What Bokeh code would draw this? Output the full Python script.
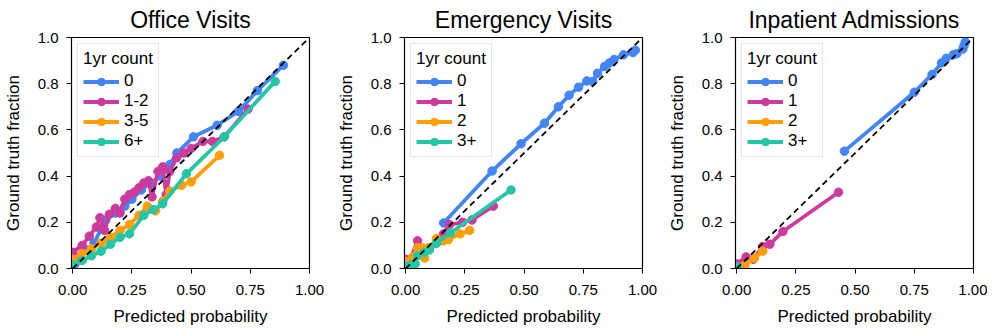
from bokeh.plotting import figure
from bokeh.layouts import row
from bokeh.models import FixedTicker, NumeralTickFormatter
from bokeh.embed import file_html
from bokeh.resources import INLINE

FONT = "Liberation Sans"
COLORS = ["#4285F4", "#CC3A9E", "#FF9E0A", "#25C6A5"]

titles = ["Office Visits", "Emergency Visits", "Inpatient Admissions"]
office_labels = ["0", "1-2", "3-5", "6+"]
emerg_labels = ["0", "1", "2", "3+"]
inpat_labels = ["0", "1", "2", "3+"]
x_ticks = [0, 0.25, 0.5, 0.75, 1.0]
y_ticks = [0, 0.2, 0.4, 0.6, 0.8, 1.0]

# Office Visits
off0_x = [0.01, 0.03, 0.06, 0.09, 0.12, 0.14, 0.18, 0.22, 0.25, 0.29, 0.33, 0.37, 0.41, 0.44, 0.51, 0.61, 0.70, 0.78, 0.89]
off0_y = [0.02, 0.05, 0.08, 0.11, 0.17, 0.21, 0.24, 0.27, 0.30, 0.34, 0.37, 0.40, 0.45, 0.50, 0.57, 0.62, 0.68, 0.77, 0.88]
off1_x = [0.00, 0.04, 0.07, 0.10, 0.115, 0.135, 0.155, 0.18, 0.20, 0.22, 0.24, 0.26, 0.28, 0.30, 0.32, 0.335, 0.36, 0.38, 0.395, 0.41, 0.44, 0.47, 0.50, 0.55, 0.59, 0.64, 0.74]
off1_y = [0.07, 0.10, 0.14, 0.18, 0.22, 0.165, 0.235, 0.26, 0.24, 0.30, 0.32, 0.33, 0.35, 0.37, 0.38, 0.31, 0.42, 0.44, 0.32, 0.42, 0.48, 0.50, 0.52, 0.55, 0.55, 0.57, 0.69]
off2_x = [0.0, 0.04, 0.08, 0.12, 0.16, 0.20, 0.24, 0.28, 0.315, 0.35, 0.38, 0.41, 0.46, 0.50, 0.62]
off2_y = [0.04, 0.065, 0.085, 0.11, 0.135, 0.165, 0.19, 0.23, 0.27, 0.25, 0.29, 0.335, 0.36, 0.375, 0.49]
off3_x = [0.0, 0.04, 0.08, 0.12, 0.16, 0.20, 0.24, 0.30, 0.34, 0.38, 0.48, 0.64, 0.855]
off3_y = [0.015, 0.035, 0.055, 0.075, 0.105, 0.135, 0.15, 0.23, 0.255, 0.28, 0.41, 0.57, 0.81]

# Emergency Visits
em0_x = [0.16, 0.365, 0.487, 0.586, 0.645, 0.69, 0.73, 0.765, 0.79, 0.81, 0.84, 0.86, 0.88, 0.92, 0.96, 0.97]
em0_y = [0.197, 0.422, 0.54, 0.629, 0.70, 0.75, 0.785, 0.812, 0.81, 0.845, 0.875, 0.89, 0.905, 0.925, 0.935, 0.945]
em1_x = [0.0, 0.02, 0.05, 0.07, 0.10, 0.13, 0.16, 0.185, 0.24, 0.28, 0.37]
em1_y = [0.04, 0.04, 0.12, 0.07, 0.09, 0.11, 0.15, 0.19, 0.20, 0.21, 0.27]
em2_x = [0.0, 0.03, 0.05, 0.07, 0.08, 0.10, 0.13, 0.16, 0.18, 0.23, 0.27]
em2_y = [0.03, 0.05, 0.09, 0.09, 0.045, 0.09, 0.13, 0.12, 0.125, 0.15, 0.165]
em3_x = [0.0, 0.02, 0.04, 0.05, 0.08, 0.10, 0.13, 0.19, 0.445]
em3_y = [0.01, 0.015, 0.02, 0.055, 0.07, 0.08, 0.11, 0.155, 0.34]

# Inpatient Admissions
in0_x = [0.455, 0.75, 0.825, 0.865, 0.885, 0.915, 0.93, 0.955, 0.96, 0.965]
in0_y = [0.508, 0.763, 0.84, 0.89, 0.91, 0.925, 0.93, 0.95, 0.965, 0.98]
in1_x = [0.0, 0.04, 0.07, 0.11, 0.14, 0.195, 0.43]
in1_y = [0.02, 0.05, 0.04, 0.095, 0.105, 0.16, 0.33]
in2_x = [0.035, 0.075, 0.11]
in2_y = [0.015, 0.045, 0.075]
in3_x = [0.003]
in3_y = [0.008]

panels = [
    (titles[0], office_labels, [(off0_x, off0_y), (off1_x, off1_y), (off2_x, off2_y), (off3_x, off3_y)], 69, 17),
    (titles[1], emerg_labels, [(em0_x, em0_y), (em1_x, em1_y), (em2_x, em2_y), (em3_x, em3_y)], 78, 15),
    (titles[2], inpat_labels, [(in0_x, in0_y), (in1_x, in1_y), (in2_x, in2_y), (in3_x, in3_y)], 78, 14),
]

figs = []
for title, labels, series, bl, br in panels:
    p = figure(frame_width=238, frame_height=231, output_backend="svg", toolbar_location=None,
               x_range=(-0.005, 1.0), y_range=(0, 1.0),
               min_border_left=bl, min_border_right=br, min_border_top=37, min_border_bottom=58)
    p.title.text = title
    p.title.align = "center"
    p.title.text_font = FONT
    p.title.text_font_size = "23px"
    p.title.text_font_style = "normal"
    p.title.text_color = "black"
    p.title.standoff = 9
    p.grid.visible = False
    p.outline_line_color = "black"
    p.outline_line_width = 1.2
    for ax in (p.xaxis[0], p.yaxis[0]):
        ax.major_label_text_font = FONT
        ax.major_label_text_font_size = "15px"
        ax.axis_label_text_font = FONT
        ax.axis_label_text_font_size = "17px"
        ax.axis_label_text_font_style = "normal"
        ax.minor_tick_line_color = None
        ax.major_tick_in = 0
        ax.major_tick_out = 5
        ax.major_tick_line_color = "black"
        ax.axis_line_color = "black"
        ax.major_label_text_color = "black"
        ax.axis_label_text_color = "black"
    p.xaxis.ticker = FixedTicker(ticks=x_ticks)
    p.yaxis.ticker = FixedTicker(ticks=y_ticks)
    p.xaxis.formatter = NumeralTickFormatter(format="0.00")
    p.yaxis.formatter = NumeralTickFormatter(format="0.0")
    p.xaxis.axis_label = "Predicted probability"
    p.yaxis.axis_label = "Ground truth fraction"
    p.xaxis.major_label_standoff = 11
    p.yaxis.major_label_standoff = 8
    p.yaxis.axis_label_standoff = 12
    p.xaxis.axis_label_standoff = 9

    for (xs, ys), lab, col in zip(series, labels, COLORS):
        p.line(xs, ys, line_color=col, line_width=3.8, legend_label=lab)
        p.scatter(xs, ys, size=8.5, fill_color=col, line_color=col, legend_label=lab)

    p.line([0, 1], [0, 1], line_color="black", line_width=1.8, line_dash="6 4")

    lg = p.legend[0]
    lg.title = "1yr count"
    lg.location = "top_left"
    lg.title_text_font = FONT
    lg.title_text_font_size = "17px"
    lg.title_text_font_style = "normal"
    lg.title_text_color = "black"
    lg.title_standoff = 2
    lg.label_text_font = FONT
    lg.label_text_font_size = "17px"
    lg.label_text_color = "black"
    lg.glyph_width = 36
    lg.glyph_height = 19
    lg.label_height = 19
    lg.spacing = 0
    lg.padding = 5
    lg.margin = 6
    lg.border_line_color = "#cccccc"
    lg.border_line_width = 1
    lg.background_fill_alpha = 0.85
    figs.append(p)

layout = row(*figs, spacing=0)
open("out.html", "w").write(file_html(layout, INLINE))
